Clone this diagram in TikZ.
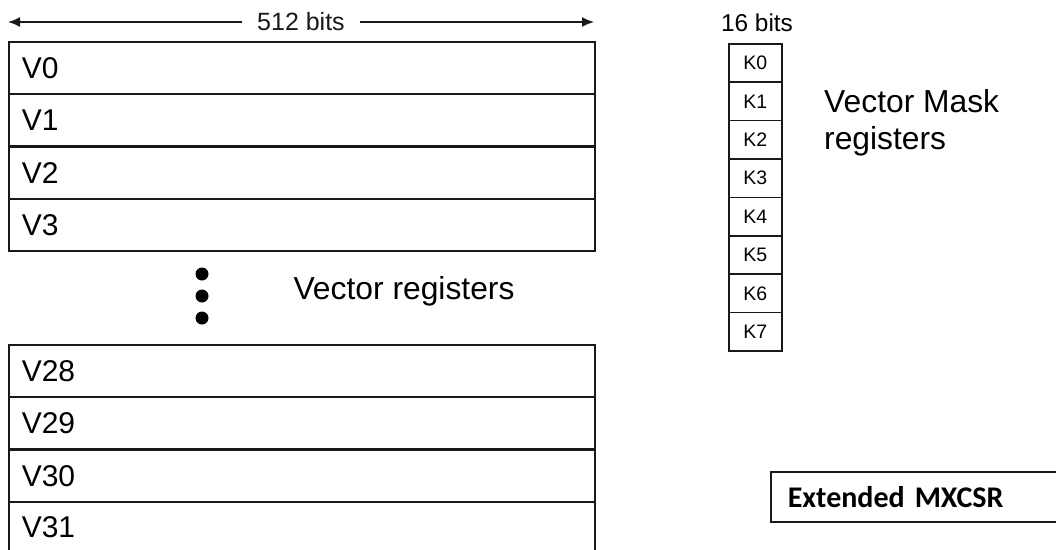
\documentclass[tikz,border=0pt]{standalone}
\usepackage{fontspec}
\usetikzlibrary{arrows.meta}
\setmainfont{Liberation Sans}
\newfontfamily\calib{Carlito}
\begin{document}
\begin{tikzpicture}[x=1pt,y=-1pt,
  boxline/.style={draw=black!90,line width=1.6pt},
  vreg/.style={boxline,anchor=north west,minimum width=586pt,minimum height=52pt,
    inner xsep=13pt,text width=560pt,align=left,font=\fontsize{30}{33}\selectfont},
  kreg/.style={boxline,anchor=north west,minimum width=53pt,minimum height=38.4pt,
    inner sep=0pt,font=\fontsize{19.5}{21}\selectfont},
  biglabel/.style={font=\fontsize{31.8}{37}\selectfont,align=left},
  bitlabel/.style={font=\fontsize{24.4}{27}\selectfont,inner sep=0pt},
  dot/.style={circle,fill=black,inner sep=0pt,minimum size=13pt}]
\clip (0,0) rectangle (1056,549);
\fill[white] (0,0) rectangle (1056,549);
% width arrow
\coordinate (aL) at (8,22);
\coordinate (aR) at (594,22);
\draw[line width=1.6pt,black!90,{Latex[length=12pt,width=10pt]}-{Latex[length=12pt,width=10pt]}] (aL) -- (aR)
  node[midway,fill=white,inner xsep=15pt,font=\fontsize{25}{28}\selectfont] (w512) {512 bits};
% vector registers
\node[vreg] (v0) at (8,41) {V0};
\node[vreg] (v1) at (8,93) {V1};
\node[vreg] (v2) at (8,146) {V2};
\node[vreg] (v3) at (8,198) {V3};
\node[dot] (d1) at (202,274) {};
\node[dot] (d2) at (202,296) {};
\node[dot] (d3) at (202,318) {};
\node[biglabel,anchor=west] (vlab) at (290,291) {Vector registers};
\node[vreg] (v28) at (8,344) {V28};
\node[vreg] (v29) at (8,396) {V29};
\node[vreg] (v30) at (8,449) {V30};
\node[vreg,minimum height=60pt,text depth=10pt] (v31) at (8,501) {V31};
% mask registers
\node[bitlabel] (b16) at (757,23) {16 bits};
\foreach \i in {0,...,7}{
  \node[kreg] (k\i) at (728,{43+38.4*\i}) {K\i};
}
\node[biglabel,anchor=north west,inner sep=0pt] (mlab) at (824,89) {Vector Mask\\registers};
% MXCSR
\node[draw=black!90,line width=1.6pt,anchor=north west,minimum width=300pt,minimum height=50pt,
  inner xsep=17pt,text width=266pt,align=left,font=\calib\bfseries\fontsize{30}{33}\selectfont] (mx) at (770,471) {Extended MXCSR};
\end{tikzpicture}
\end{document}
